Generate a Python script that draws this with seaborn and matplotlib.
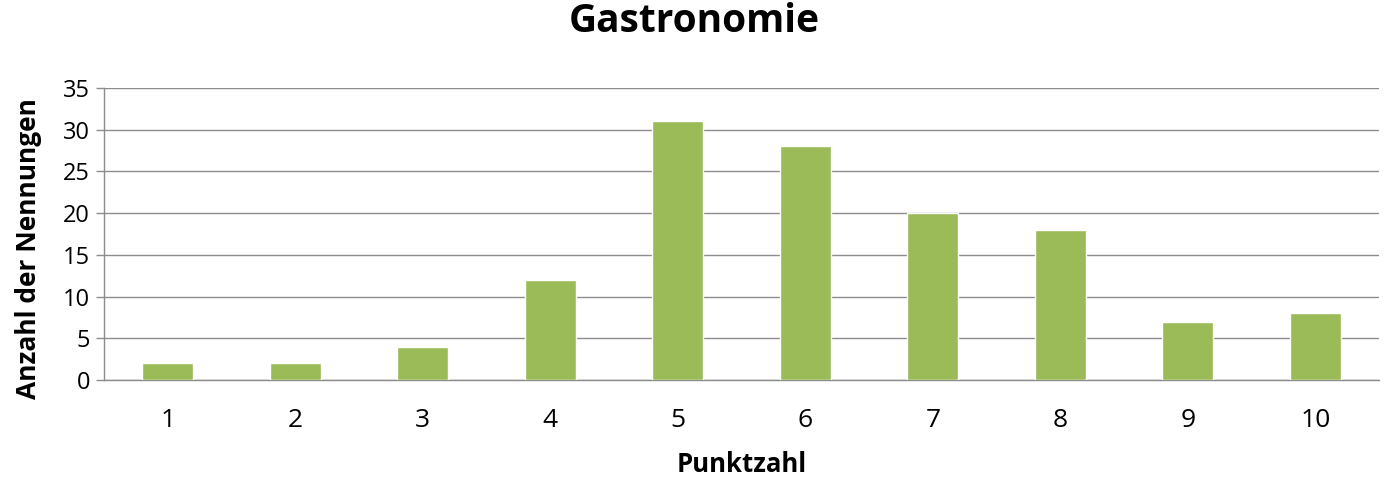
import matplotlib
matplotlib.use("Agg")
import matplotlib.pyplot as plt
import seaborn as sns
import pandas as pd

# Punktzahl und Anzahl der Nennungen
punktzahl = ["1", "2", "3", "4", "5", "6", "7", "8", "9", "10"]
nennungen = [2, 2, 4, 12, 31, 28, 20, 18, 7, 8]
y_ticks = [0, 5, 10, 15, 20, 25, 30, 35]

df = pd.DataFrame({"Punktzahl": punktzahl, "Nennungen": nennungen})

sns.set_style("white")
plt.rcParams["font.family"] = ["Open Sans", "DejaVu Sans"]
plt.rcParams["text.color"] = "black"
plt.rcParams["axes.labelcolor"] = "black"
plt.rcParams["xtick.labelcolor"] = "black"
plt.rcParams["ytick.labelcolor"] = "black"

grau = "#8c8c8c"

fig = plt.figure(figsize=(13.89, 4.79), dpi=100)
ax = fig.add_axes([0.0749, 0.2067, 0.918, 0.6096])

sns.barplot(data=df, x="Punktzahl", y="Nennungen", color="#9BBB59",
            width=0.4, saturation=1, ax=ax, zorder=3)

ax.set_xlim(-0.5, len(punktzahl) - 0.5)
ax.set_ylim(0, 35)
ax.set_yticks(y_ticks)
ax.set_yticklabels([str(v) for v in y_ticks], fontsize=17)
ax.yaxis.grid(True, color=grau, linewidth=1.0, zorder=0)
ax.set_axisbelow(True)

# Trennstriche zwischen den Kategorien
ax.set_xticks([i - 0.5 for i in range(len(punktzahl) + 1)], minor=True)
ax.tick_params(axis="x", which="minor", length=6, width=1.0, color=grau)
ax.tick_params(axis="x", which="major", length=0, pad=20, labelsize=19)
ax.tick_params(axis="y", which="major", length=6, width=1.0, color=grau,
               left=True, pad=4)

for side in ["top", "right"]:
    ax.spines[side].set_visible(False)
for side in ["left", "bottom"]:
    ax.spines[side].set_color(grau)
    ax.spines[side].set_linewidth(1.0)

ax.set_xlabel("Punktzahl", fontsize=18.5, fontweight="bold", labelpad=13)
ax.set_ylabel("Anzahl der Nennungen", fontsize=19, fontweight="bold")
ax.yaxis.set_label_coords(-0.049, 0.45)
fig.suptitle("Gastronomie", fontsize=28, fontweight="bold", y=0.995)

fig.savefig("out.png", dpi=100)
